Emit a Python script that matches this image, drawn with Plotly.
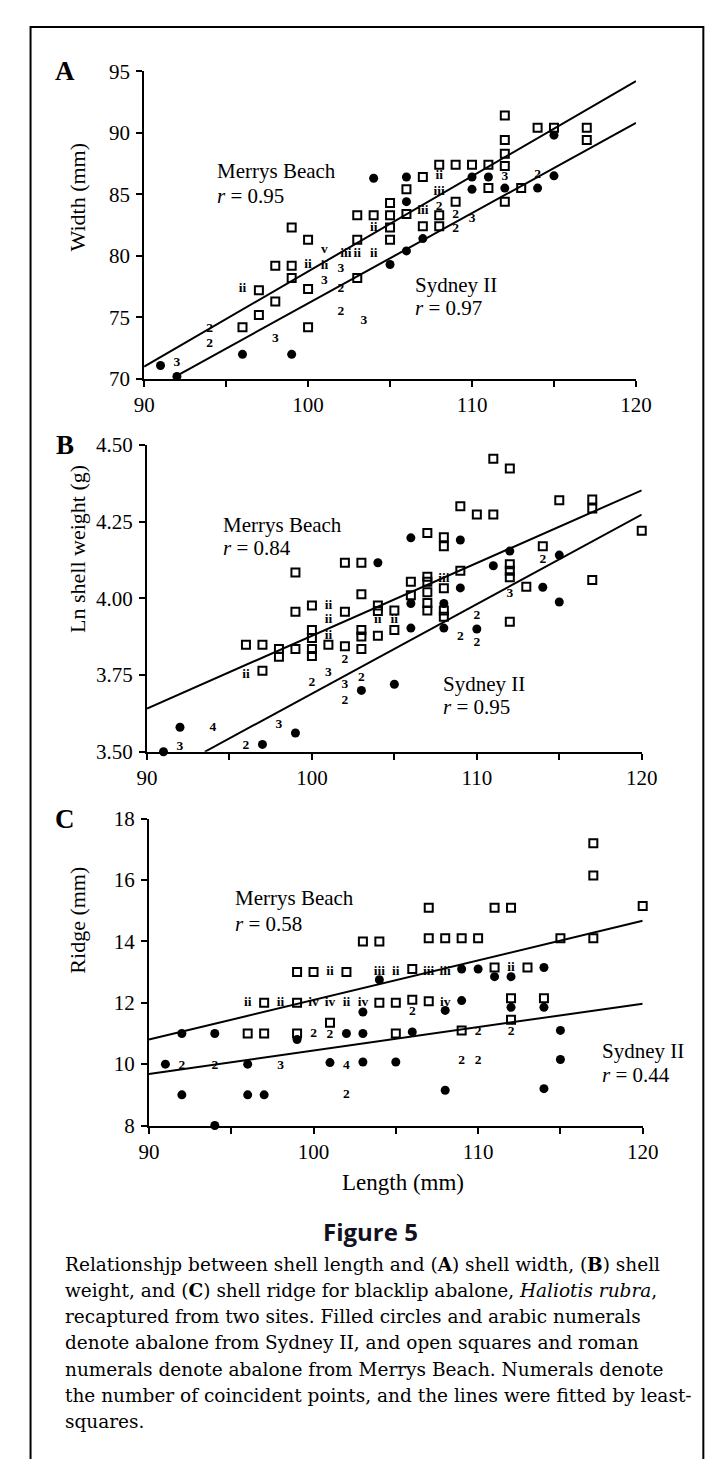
import plotly.graph_objects as go

# ======================= DATA =======================
# ---- Panel A : Width (mm) vs Length (mm)
A_mer_x = [96, 97, 97, 98, 98, 99, 99, 99, 100, 100, 100, 103, 103, 103, 104, 105, 105, 105, 105,
           106, 106, 107, 107, 108, 108, 108, 109, 109, 110, 111, 111, 112, 112, 112, 112, 112,
           113, 114, 115, 117, 117, 117, 120]
A_mer_y = [74.2, 77.2, 75.2, 79.2, 76.3, 82.3, 79.2, 78.2, 81.3, 77.3, 74.2, 83.3, 81.3, 78.2, 83.3,
           84.3, 83.3, 82.3, 81.3, 85.4, 83.4, 86.4, 82.4, 87.4, 83.3, 82.4, 87.4, 84.4, 87.4, 87.4,
           85.5, 91.4, 89.4, 88.3, 87.3, 84.4, 85.5, 90.4, 90.4, 95.5, 90.4, 89.4, 95.5]
A_syd_x = [91, 92, 96, 99, 104, 105, 106, 106, 106, 107, 110, 110, 111, 112, 114, 115, 115]
A_syd_y = [71.1, 70.2, 72.0, 72.0, 86.3, 79.3, 86.4, 84.4, 80.4, 81.4, 86.4, 85.4, 86.4, 85.5,
           85.5, 89.8, 86.5]
A_synum_x = [92, 94, 94, 98, 101, 102, 102, 102, 103.4, 108, 109, 109, 110, 112, 114]
A_synum_y = [71.3, 74.1, 72.9, 73.3, 78.0, 79.0, 77.3, 75.5, 74.7, 84.0, 83.35, 82.25, 83.0, 86.4, 86.6]
A_synum_t = ["3", "2", "2", "3", "3", "3", "2", "2", "3", "2", "2", "2", "3", "3", "2"]
A_merom_x = [96, 100, 101, 101, 102.3, 103, 104, 104, 107, 108, 108]
A_merom_y = [77.3, 79.3, 79.2, 80.5, 80.2, 80.2, 80.2, 82.3, 83.7, 86.55, 85.25]
A_merom_t = ["ii", "ii", "ii", "v", "iii", "ii", "ii", "ii", "iii", "ii", "iii"]
A_fit_mer = ([90, 120], [71.0, 94.2])
A_fit_syd = ([91.9, 120], [70.2, 90.8])

# ---- Panel B : Ln shell weight (g) vs Length (mm)
B_mer_x = [96, 97, 97, 98, 98, 99, 99, 99, 100, 100, 100, 100, 100, 101, 102, 102, 102, 103, 103,
           103, 103, 103, 104, 104, 104, 105, 105, 106, 106, 107, 107, 107, 107, 107, 107, 108,
           108, 108, 108, 108, 109, 109, 110, 111, 111, 112, 112, 112, 112, 112, 113, 114, 115,
           117, 117, 117, 120]
B_mer_y = [3.849, 3.849, 3.764, 3.835, 3.810, 4.084, 3.956, 3.835, 3.977, 3.897, 3.871, 3.835,
           3.812, 3.849, 4.116, 3.956, 3.844, 4.116, 4.013, 3.897, 3.876, 3.835, 3.977, 3.959,
           3.878, 3.960, 3.897, 4.054, 4.010, 4.213, 4.070, 4.054, 4.020, 3.985, 3.960, 4.199,
           4.170, 4.033, 3.960, 3.940, 4.300, 4.090, 4.273, 4.455, 4.273, 4.423, 4.111, 4.090,
           4.069, 3.924, 4.038, 4.170, 4.320, 4.322, 4.293, 4.060, 4.220]
B_syd_x = [91, 92, 97, 99, 103, 104, 105, 106, 106, 106, 108, 108, 109, 109, 110, 111, 112, 114,
           115, 115]
B_syd_y = [3.500, 3.580, 3.524, 3.561, 3.700, 4.116, 3.720, 4.197, 3.983, 3.903, 3.983, 3.903,
           4.190, 4.034, 3.900, 4.106, 4.154, 4.036, 4.141, 3.988]
B_synum_x = [92, 94, 96, 98, 100, 101, 102, 102, 102, 103, 109, 110, 110, 112, 114]
B_synum_y = [3.518, 3.580, 3.520, 3.590, 3.726, 3.757, 3.800, 3.720, 3.665, 3.740, 3.876, 3.942,
             3.857, 4.015, 4.127]
B_synum_t = ["3", "4", "2", "3", "2", "3", "2", "3", "2", "2", "2", "2", "2", "3", "2"]
B_merom_x = [96, 101, 101, 101, 104, 105, 108]
B_merom_y = [3.750, 3.975, 3.930, 3.877, 3.930, 3.930, 4.065]
B_merom_t = ["ii", "ii", "ii", "ii", "ii", "ii", "iii"]
B_fit_mer = ([90, 120], [3.641, 4.352])
B_fit_syd = ([93.5, 120], [3.5, 4.273])

# ---- Panel C : Ridge (mm) vs Length (mm)
C_mer_x = [96, 97, 97, 99, 99, 99, 100, 101, 102, 103, 104, 104, 105, 105, 106, 106, 107, 107, 107,
           108, 109, 109, 110, 111, 111, 112, 112, 112, 113, 114, 115, 117, 117, 117, 120]
C_mer_y = [11, 11, 12, 11, 12, 13, 13, 11.35, 13, 14, 14, 12, 12, 11, 13.1, 12.1, 15.1, 14.1, 12.05,
           14.1, 14.1, 11.1, 14.1, 15.1, 13.15, 15.1, 12.15, 11.45, 13.15, 12.15, 14.1, 17.2, 16.15,
           14.1, 15.15]
C_syd_x = [91, 92, 92, 94, 94, 96, 96, 97, 99, 101, 102, 103, 103, 103, 104, 105, 106, 108, 108,
           109, 109, 110, 111, 112, 112, 114, 114, 114, 115, 115]
C_syd_y = [10, 11, 9, 11, 8, 10, 9, 9, 10.8, 10.05, 11, 11, 10.07, 11.7, 12.75, 10.07, 11.05, 11.75,
           9.15, 13.1, 12.07, 13.1, 12.85, 12.85, 11.85, 13.15, 11.85, 9.2, 11.1, 10.15]
C_synum_x = [92, 94, 98, 100, 101, 102, 102, 106, 109, 110, 110, 112]
C_synum_y = [9.95, 9.95, 9.95, 11.0, 10.97, 9.95, 9.0, 11.7, 10.1, 10.1, 11.05, 11.05]
C_synum_t = ["2", "2", "3", "2", "2", "4", "2", "2", "2", "2", "2", "2"]
C_merom_x = [96, 98, 100, 101, 101, 102, 103, 104, 105, 107, 108, 108, 112]
C_merom_y = [12, 12, 12, 12, 13, 12, 12, 13, 13, 13, 13, 12, 13.15]
C_merom_t = ["ii", "ii", "iv", "iv", "ii", "ii", "iv", "iii", "ii", "iii", "iii", "iv", "ii"]
C_fit_mer = ([90, 120], [10.8, 14.67])
C_fit_syd = ([90, 120], [9.68, 11.97])

X_TICKS = [90, 95, 100, 105, 110, 115, 120]
X_TICKTEXT = ["90", "", "100", "", "110", "", "120"]
A_YTICKS = [70, 75, 80, 85, 90, 95]
B_YTICKS = [3.50, 3.75, 4.00, 4.25, 4.50]
C_YTICKS = [8, 10, 12, 14, 16, 18]

CAPTION = [
    "Relationshjp between shell length and (<b>A</b>) shell width, (<b>B</b>) shell",
    "weight, and (<b>C</b>) shell ridge for blacklip abalone, <i>Haliotis rubra</i>,",
    "recaptured from two sites. Filled circles and arabic numerals",
    "denote abalone from Sydney II, and open squares and roman",
    "numerals denote abalone from Merrys Beach. Numerals denote",
    "the number of coincident points, and the lines were fitted by least-",
    "squares.",
]

# ======================= LAYOUT / STYLE =======================
W, H = 720, 1459
SERIF = "Liberation Serif"


def px_x(p):
    return p / W


def px_y(p):
    return 1 - p / H


panels = [
    dict(mer=(A_mer_x, A_mer_y), syd=(A_syd_x, A_syd_y),
         synum=(A_synum_x, A_synum_y, A_synum_t), merom=(A_merom_x, A_merom_y, A_merom_t),
         fm=A_fit_mer, fs=A_fit_syd, xpx=(130, 641), ypx=(52, 365), yr=[70, 95],
         yt=A_YTICKS, ytf="", ytitle="Width (mm)", ytitle_y=84.8, letter="A",
         lab1=(94.3, 86.9, 84.9, "0.95"), lab2=(106.4, 77.6, 75.75, "0.97")),
    dict(mer=(B_mer_x, B_mer_y), syd=(B_syd_x, B_syd_y),
         synum=(B_synum_x, B_synum_y, B_synum_t), merom=(B_merom_x, B_merom_y, B_merom_t),
         fm=B_fit_mer, fs=B_fit_syd, xpx=(133, 647), ypx=(432, 744), yr=[3.5, 4.5],
         yt=B_YTICKS, ytf=".2f", ytitle="Ln shell weight (g)", ytitle_y=4.16, letter="B",
         lab1=(94.5, 4.24, 4.163, "0.84"), lab2=(107.8, 3.72, 3.645, "0.95")),
    dict(mer=(C_mer_x, C_mer_y), syd=(C_syd_x, C_syd_y),
         synum=(C_synum_x, C_synum_y, C_synum_t), merom=(C_merom_x, C_merom_y, C_merom_t),
         fm=C_fit_mer, fs=C_fit_syd, xpx=(135, 648), ypx=(812, 1124), yr=[8, 18],
         yt=C_YTICKS, ytf="", ytitle="Ridge (mm)", ytitle_y=14.7, letter="C",
         lab1=(95.1, 15.4, 14.57, "0.58"), lab2=(117.4, 10.44, 9.65, "0.44")),
]

fig = go.Figure()
annotations = []
layout_axes = {}

for i, p in enumerate(panels, start=1):
    xa = "x" if i == 1 else f"x{i}"
    ya = "y" if i == 1 else f"y{i}"
    common = dict(xaxis=xa, yaxis=ya, showlegend=False, cliponaxis=False, hoverinfo="skip")
    for fx, fy in (p["fm"], p["fs"]):
        fig.add_trace(go.Scatter(x=fx, y=fy, mode="lines",
                                 line=dict(color="black", width=2), **common))
    fig.add_trace(go.Scatter(x=p["mer"][0], y=p["mer"][1], mode="markers",
                             marker=dict(symbol="square-open", size=8, color="black",
                                         line=dict(width=2, color="black")), **common))
    fig.add_trace(go.Scatter(x=p["syd"][0], y=p["syd"][1], mode="markers",
                             marker=dict(symbol="circle", size=9, color="black"), **common))
    for nx, ny, nt in (p["synum"], p["merom"]):
        fig.add_trace(go.Scatter(x=nx, y=ny, text=nt, mode="text",
                                 textfont=dict(family=SERIF, size=13.5, color="black",
                                               weight="bold"),
                                 **common))

    xdom = [px_x(p["xpx"][0]), px_x(p["xpx"][1])]
    ydom = [px_y(p["ypx"][1]), px_y(p["ypx"][0])]
    axis_style = dict(showline=True, linecolor="black", linewidth=2, ticks="outside",
                      ticklen=6, tickwidth=1.5, tickcolor="black", showgrid=False,
                      zeroline=False, tickfont=dict(family=SERIF, size=21, color="black"))
    layout_axes["xaxis" if i == 1 else f"xaxis{i}"] = dict(
        domain=xdom, range=[90, 120], anchor=ya, tickmode="array", tickvals=X_TICKS,
        ticktext=X_TICKTEXT, **axis_style)
    layout_axes["yaxis" if i == 1 else f"yaxis{i}"] = dict(
        domain=ydom, range=p["yr"], anchor=xa, tickmode="array", tickvals=p["yt"],
        tickformat=p["ytf"], ticklabelstandoff=2, **axis_style)

    annotations.append(dict(text=p["ytitle"], xref="paper", yref=ya, x=px_x(61),
                            y=p["ytitle_y"], textangle=-90, showarrow=False,
                            xanchor="center", yanchor="middle",
                            font=dict(family=SERIF, size=22, color="black")))
    annotations.append(dict(text=f"<b>{p['letter']}</b>", xref="paper", yref=ya,
                            x=px_x(48), y=p["yr"][1], showarrow=False,
                            xanchor="center", yanchor="middle",
                            font=dict(family=SERIF, size=27, color="black")))
    lx, ly1, ly2, rv = p["lab1"]
    annotations.append(dict(text="Merrys Beach", xref=xa, yref=ya, x=lx, y=ly1,
                            showarrow=False, xanchor="left", yanchor="middle",
                            font=dict(family=SERIF, size=21, color="black")))
    annotations.append(dict(text=f"<i>r</i> = {rv}", xref=xa, yref=ya, x=lx, y=ly2,
                            showarrow=False, xanchor="left", yanchor="middle",
                            font=dict(family=SERIF, size=21, color="black")))
    lx, ly1, ly2, rv = p["lab2"]
    annotations.append(dict(text="Sydney II", xref=xa, yref=ya, x=lx, y=ly1,
                            showarrow=False, xanchor="left", yanchor="middle",
                            font=dict(family=SERIF, size=21, color="black")))
    annotations.append(dict(text=f"<i>r</i> = {rv}", xref=xa, yref=ya, x=lx, y=ly2,
                            showarrow=False, xanchor="left", yanchor="middle",
                            font=dict(family=SERIF, size=21, color="black")))

annotations.append(dict(text="Length (mm)", xref="paper", yref="paper", x=px_x(399),
                        y=px_y(1182), showarrow=False, xanchor="center", yanchor="middle",
                        font=dict(family=SERIF, size=23, color="black")))
annotations.append(dict(text="<b>Figure 5</b>", xref="paper", yref="paper", x=px_x(365),
                        y=px_y(1232), showarrow=False, xanchor="center", yanchor="middle",
                        font=dict(family="Open Sans", size=24, color="#111122")))
for k, line in enumerate(CAPTION):
    annotations.append(dict(text=line, xref="paper", yref="paper", x=px_x(46),
                            y=px_y(1265 + k * 26.7), showarrow=False, xanchor="left",
                            yanchor="middle",
                            font=dict(family="DejaVu Serif", size=18.5, color="black")))

fig.update_layout(
    width=W, height=H, margin=dict(l=0, r=0, t=0, b=0),
    paper_bgcolor="white", plot_bgcolor="white",
    annotations=annotations,
    shapes=[dict(type="rect", xref="paper", yref="paper", x0=px_x(12), x1=px_x(711),
                 y0=-0.02, y1=px_y(7), line=dict(color="black", width=2))],
    **layout_axes,
)

fig.write_html("out.html")
